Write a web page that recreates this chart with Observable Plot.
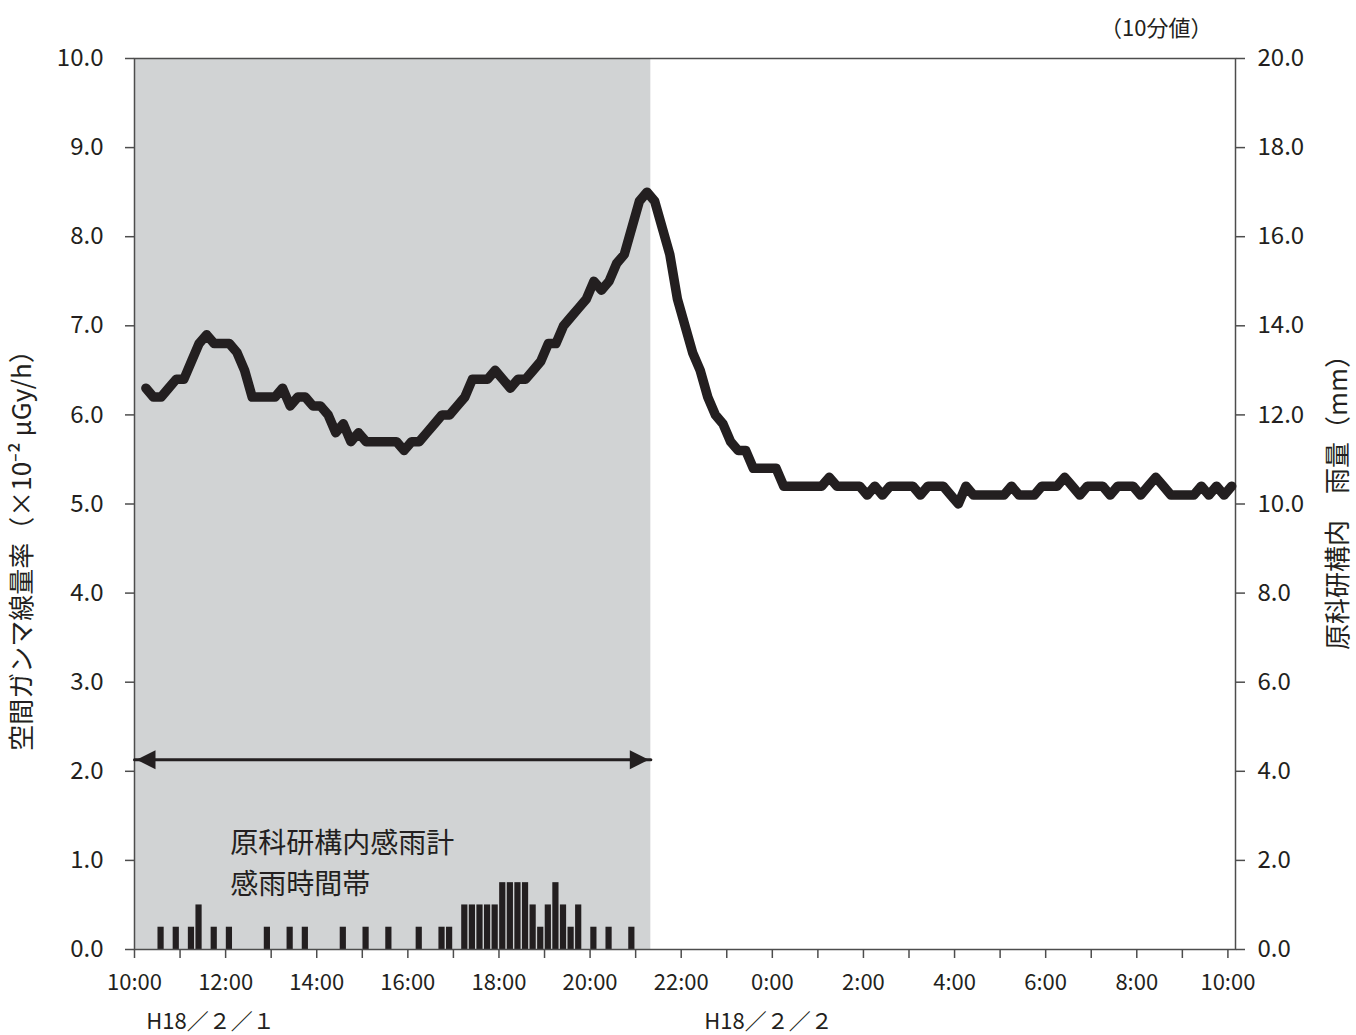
<!DOCTYPE html>
<html><head><meta charset="utf-8">
<script src="https://cdn.jsdelivr.net/npm/d3@7"></script>
<script src="https://cdn.jsdelivr.net/npm/@observablehq/plot@0.6"></script>
<style>
body{margin:0;background:#fff;}
#chart svg{display:block;}
</style></head><body><div id="chart"></div>
<script>
// ---- data ----
const xDomain = ["2006-02-01 10:00", "2006-02-02 10:10"];
const gammaStart = "2006-02-01 10:10";       // first 10-minute value, step 10 min
const gammaValues = [
  6.3,6.2,6.2,6.3,6.4,6.4,            // 10:10-11:00
  6.6,6.8,6.9,6.8,6.8,6.8,            // 11:10-12:00
  6.7,6.5,6.2,6.2,6.2,6.2,            // 12:10-13:00
  6.3,6.1,6.2,6.2,6.1,6.1,            // 13:10-14:00
  6.0,5.8,5.9,5.7,5.8,5.7,            // 14:10-15:00
  5.7,5.7,5.7,5.7,5.6,5.7,            // 15:10-16:00
  5.7,5.8,5.9,6.0,6.0,6.1,            // 16:10-17:00
  6.2,6.4,6.4,6.4,6.5,6.4,            // 17:10-18:00
  6.3,6.4,6.4,6.5,6.6,6.8,            // 18:10-19:00
  6.8,7.0,7.1,7.2,7.3,7.5,            // 19:10-20:00
  7.4,7.5,7.7,7.8,8.1,8.4,            // 20:10-21:00
  8.5,8.4,8.1,7.8,7.3,7.0,            // 21:10-22:00
  6.7,6.5,6.2,6.0,5.9,5.7,            // 22:10-23:00
  5.6,5.6,5.4,5.4,5.4,5.4,            // 23:10-0:00
  5.2,5.2,5.2,5.2,5.2,5.2,            // 0:10-1:00
  5.3,5.2,5.2,5.2,5.2,5.1,            // 1:10-2:00
  5.2,5.1,5.2,5.2,5.2,5.2,            // 2:10-3:00
  5.1,5.2,5.2,5.2,5.1,5.0,            // 3:10-4:00
  5.2,5.1,5.1,5.1,5.1,5.1,            // 4:10-5:00
  5.2,5.1,5.1,5.1,5.2,5.2,            // 5:10-6:00
  5.2,5.3,5.2,5.1,5.2,5.2,            // 6:10-7:00
  5.2,5.1,5.2,5.2,5.2,5.1,            // 7:10-8:00
  5.2,5.3,5.2,5.1,5.1,5.1,            // 8:10-9:00
  5.1,5.2,5.1,5.2,5.1,5.2             // 9:10-10:00
];
const rainSlots = ["10:30","10:50","11:10","11:20","11:40","12:00","12:50","13:20","13:40","14:30",
  "15:00","15:30","16:10","16:40","16:50","17:10","17:20","17:30","17:40","17:50",
  "18:00","18:10","18:20","18:30","18:40","18:50","19:00","19:10","19:20","19:30",
  "19:40","20:00","20:20","20:50"];
const rainMm = [0.5,0.5,0.5,1.0,0.5,0.5,0.5,0.5,0.5,0.5,
  0.5,0.5,0.5,0.5,0.5,1.0,1.0,1.0,1.0,1.0,
  1.5,1.5,1.5,1.5,1.0,0.5,1.0,1.5,1.0,0.5,
  1.0,0.5,0.5,0.5];
const rainPeriod = ["2006-02-01 10:00", "2006-02-01 21:20"];
const yTicks = [0,1,2,3,4,5,6,7,8,9,10];
const arrowY = 2.13;
const noteTime = "2006-02-01 12:06";
const noteText = "原科研構内感雨計\n感雨時間帯";
const dateLabels = [
  {time: "2006-02-01 11:40", text: "H18／２／１"},
  {time: "2006-02-01 23:55", text: "H18／２／２"}
];
const leftTitle = "空間ガンマ線量率（×10⁻² μGy/h）";
const rightTitle = "原科研構内　雨量（mm）";
const cornerNote = "（10分値）";

// ---- build ----
const parse = d3.timeParse("%Y-%m-%d %H:%M");
const gamma = gammaValues.map((v, i) => ({t: d3.timeMinute.offset(parse(gammaStart), 10 * i), v}));
const rain = rainSlots.map((s, i) => ({t: parse("2006-02-01 " + s), mm: rainMm[i]}));
const x0 = parse(xDomain[0]), x1 = parse(xDomain[1]);
const hourTicks = d3.timeHour.range(x0, d3.timeMinute.offset(x1, 1));
const labelTicks = d3.timeHour.every(2).range(x0, d3.timeMinute.offset(x1, 1));
const rs = parse(rainPeriod[0]), re = parse(rainPeriod[1]);

const ink = "#231f20";
const axisInk = "#4d4d4d";
const headRight = {draw(ctx, size){ const r = Math.sqrt(size/Math.PI); ctx.moveTo(0,0); ctx.lineTo(-2*r,-r); ctx.lineTo(-2*r,r); ctx.closePath(); }};
const headLeft = {draw(ctx, size){ const r = Math.sqrt(size/Math.PI); ctx.moveTo(0,0); ctx.lineTo(2*r,-r); ctx.lineTo(2*r,r); ctx.closePath(); }};

const chart = Plot.plot({
  width: 1356, height: 1035,
  marginTop: 58, marginBottom: 86, marginLeft: 134, marginRight: 121,
  style: {fontFamily: "'Noto Sans CJK JP', 'Noto Sans', sans-serif", fontSize: "24px", color: ink, background: "#fff"},
  x: {type: "time", domain: [x0, x1]},
  y: {domain: [0, 10]},
  marks: [
    Plot.rect([rainPeriod], {x1: () => rs, x2: () => re, y1: 0, y2: 10, fill: "#d1d3d4"}),
    Plot.rect(rain, {x1: "t", x2: d => d3.timeMinute.offset(d.t, 10), y1: 0, y2: d => d.mm / 2, fill: ink, insetLeft: 0.7, insetRight: 0.7}),
    Plot.frame({stroke: axisInk, strokeWidth: 1.5}),
    Plot.axisY({anchor: "left", ticks: yTicks, tickFormat: d => d.toFixed(1), tickSize: 9, tickPadding: 22, label: null, stroke: axisInk, strokeWidth: 1.5, fontSize: 24, fill: ink}),
    Plot.axisY({anchor: "right", ticks: yTicks, tickFormat: d => (d * 2).toFixed(1), tickSize: 9, tickPadding: 13, label: null, stroke: axisInk, strokeWidth: 1.5, fontSize: 24, fill: ink}),
    Plot.axisX({ticks: hourTicks, tickFormat: () => "", tickSize: 9, label: null, stroke: axisInk, strokeWidth: 1.5}),
    Plot.axisX({ticks: labelTicks, tickFormat: d3.timeFormat("%-H:%M"), tickSize: 0, tickPadding: 25, label: null, fontSize: 22, fill: ink}),
    Plot.line(gamma, {x: d => d3.timeMinute.offset(d.t, 5), y: "v", stroke: ink, strokeWidth: 9.5, strokeLinejoin: "round", strokeLinecap: "round"}),
    Plot.line([rs, re], {x: d => d, y: () => arrowY, stroke: ink, strokeWidth: 3}),
    Plot.dot([rs], {x: d => d, y: () => arrowY, symbol: headLeft, r: 9.5, fill: ink, dx: 2}),
    Plot.dot([re], {x: d => d, y: () => arrowY, symbol: headRight, r: 9.5, fill: ink, dx: -2}),
    Plot.text([noteText], {x: () => parse(noteTime), y: 1.0, text: d => d, textAnchor: "start", lineAnchor: "middle", lineHeight: 1.45, fontSize: 28, fill: ink}),
    Plot.text(dateLabels, {x: d => parse(d.time), text: "text", frameAnchor: "bottom", dy: 72, lineAnchor: "middle", fontSize: 22, fill: ink}),
    Plot.text([leftTitle], {text: d => d, frameAnchor: "left", textAnchor: "middle", lineAnchor: "middle", rotate: -90, dx: -112, dy: 40, fontSize: 26, fill: ink}),
    Plot.text([rightTitle], {text: d => d, frameAnchor: "right", textAnchor: "middle", lineAnchor: "middle", rotate: -90, dx: 103, dy: -8, fontSize: 26, fill: ink}),
    Plot.text([cornerNote], {text: d => d, frameAnchor: "top-right", textAnchor: "end", lineAnchor: "middle", dx: -23, dy: -30, fontSize: 22, fill: ink})
  ]
});
document.getElementById("chart").appendChild(chart);
</script>
</body></html>
